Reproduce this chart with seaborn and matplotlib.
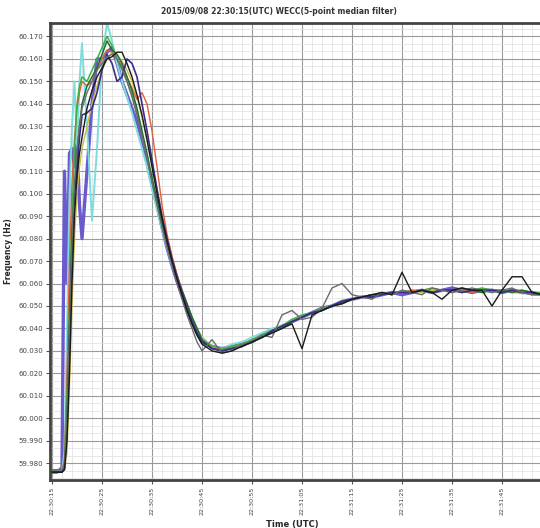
import matplotlib
matplotlib.use('agg')
from matplotlib import pyplot as plt
from matplotlib.ticker import MultipleLocator, AutoMinorLocator, FixedLocator
import pandas as pd
import seaborn as sns

# seconds after the first tick (22:30:15 UTC)
t_sec = [0, 1, 2, 2.5, 3, 3.5, 4, 4.5, 5, 5.5, 6, 7, 8, 9, 10, 11, 12, 13, 14, 15,
         16, 17, 18, 19, 20, 21, 22, 23, 24, 25, 26, 27, 28, 29, 30, 32, 34, 36, 38, 40,
         42, 44, 46, 48, 50, 52, 54, 56, 58, 60, 62, 64, 66, 68, 70, 72, 74, 76, 78, 80,
         82, 84, 86, 88, 90, 92, 94, 96, 98]

# frequency deviation from 60 Hz, in mHz, one list per measurement unit
blue = [-24, -24, -22, 110, 60, 118, 120, 112, 122, 95, 80, 110, 140, 160, 160, 163, 165, 158, 150, 144,
        138, 132, 124, 114, 104, 95, 85, 76, 68, 61, 55, 49, 43, 38, 34, 32, 31, 32, 33, 34,
        37, 39, 41, 43, 45, 47, 49, 50, 52, 53, 54, 54, 55, 56, 55, 56, 57, 56, 57, 58,
        57, 56, 57, 57, 56, 57, 56, 56, 55]
cyan = [-23, -23, -23, -15, 40, 100, 130, 150, 120, 150, 167, 130, 88, 120, 160, 176, 168, 158, 150, 143,
        136, 128, 120, 112, 102, 93, 84, 76, 68, 62, 56, 50, 45, 40, 36, 32, 31, 33, 34, 36,
        38, 40, 41, 44, 45, 47, 48, 50, 51, 53, 54, 55, 55, 56, 56, 57, 56, 57, 57, 56,
        57, 57, 57, 56, 57, 56, 56, 55, 55]
green = [-23, -23, -23, -20, 10, 50, 90, 120, 140, 148, 152, 150, 155, 160, 165, 170, 166, 160, 155, 150,
         144, 136, 126, 116, 106, 96, 86, 77, 69, 62, 56, 50, 44, 39, 35, 32, 31, 32, 33, 35,
         37, 39, 41, 44, 46, 47, 49, 50, 52, 53, 54, 55, 56, 55, 57, 56, 57, 58, 57, 57,
         56, 57, 58, 57, 56, 57, 57, 56, 56]
dark_green = [-24, -24, -24, -22, -5, 30, 70, 100, 118, 130, 140, 148, 152, 156, 162, 168, 164, 162, 158, 152,
              146, 138, 128, 118, 107, 97, 87, 78, 70, 63, 57, 51, 45, 40, 35, 31, 30, 31, 32, 34,
              36, 38, 40, 43, 45, 47, 48, 50, 51, 53, 54, 55, 55, 56, 56, 56, 57, 56, 57, 57,
              58, 57, 56, 57, 57, 56, 57, 56, 55]
red = [-23, -23, -23, -18, 20, 70, 105, 125, 138, 145, 150, 148, 150, 155, 160, 164, 163, 160, 157, 152,
       147, 142, 145, 140, 128, 112, 95, 82, 72, 64, 57, 51, 45, 40, 35, 31, 31, 32, 33, 35,
       37, 39, 41, 43, 45, 47, 49, 50, 52, 53, 54, 55, 55, 56, 56, 57, 57, 56, 57, 57,
       57, 56, 57, 57, 56, 57, 56, 55, 55]
black = [-24, -24, -24, -23, -10, 20, 60, 90, 108, 118, 125, 138, 146, 152, 156, 160, 161, 163, 163, 158,
         152, 144, 135, 124, 112, 100, 89, 79, 70, 62, 55, 48, 42, 37, 33, 30, 29, 30, 32, 34,
         36, 38, 40, 42, 31, 46, 48, 50, 51, 53, 54, 55, 56, 55, 65, 56, 57, 56, 53, 57,
         58, 57, 57, 50, 57, 63, 63, 56, 55]
gray = [-23, -23, -23, -21, 0, 40, 80, 105, 120, 130, 138, 145, 150, 155, 158, 161, 162, 160, 156, 150,
        143, 135, 126, 116, 105, 95, 85, 76, 68, 60, 53, 46, 40, 34, 30, 35, 29, 30, 33, 34,
        37, 36, 46, 48, 44, 45, 49, 58, 60, 55, 54, 53, 56, 55, 57, 56, 55, 58, 57, 56,
        57, 58, 57, 56, 57, 58, 56, 55, 55]
purple = [-24, -24, -24, -22, -5, 40, 80, 100, 110, 125, 135, 136, 138, 145, 155, 162, 158, 150, 152, 160,
          158, 152, 140, 128, 115, 102, 90, 80, 71, 63, 56, 49, 43, 38, 34, 31, 30, 31, 32, 34,
          36, 39, 41, 43, 45, 47, 48, 50, 52, 53, 54, 54, 55, 56, 56, 56, 57, 56, 57, 57,
          56, 57, 57, 57, 56, 57, 56, 56, 55]
olive = [-23, -23, -23, -23, -15, 15, 50, 80, 100, 112, 120, 130, 140, 148, 155, 160, 163, 162, 159, 155,
         150, 143, 134, 124, 113, 102, 91, 81, 72, 64, 57, 51, 45, 40, 36, 32, 31, 32, 33, 35,
         37, 39, 41, 44, 45, 47, 49, 50, 51, 53, 54, 55, 55, 56, 56, 57, 56, 57, 57, 56,
         57, 57, 56, 57, 57, 56, 56, 56, 55]

tick_labels = ['22:30:15', '22:30:25', '22:30:35', '22:30:45', '22:30:55',
               '22:31:05', '22:31:15', '22:31:25', '22:31:35', '22:31:45']

series = [
    ('blue', blue, '#6a5acd', 2.4),
    ('cyan', cyan, '#7fdcdc', 1.4),
    ('olive', olive, '#c8c040', 1.0),
    ('red', red, '#e0603a', 1.0),
    ('green', green, '#3cb043', 1.1),
    ('dark_green', dark_green, '#1f6e34', 1.1),
    ('purple', purple, '#3a2a8a', 1.2),
    ('gray', gray, '#6b6b6b', 1.0),
    ('black', black, '#1a1a1a', 1.0),
]

sns.set_style('white')
fig = plt.figure(figsize=(5.4, 5.28), dpi=100)
ax = fig.add_axes([0.0926, 0.0909, 0.9074, 0.8655])

for name, vals, color, lw in series:
    df = pd.DataFrame({'t': t_sec, 'f': [60 + v / 1000 for v in vals]})
    sns.lineplot(data=df, x='t', y='f', ax=ax, color=color, linewidth=lw,
                 estimator=None, sort=False)

ax.set_xlim(-0.4, 97.6)
ax.set_ylim(59.9725, 60.176)
ax.xaxis.set_major_locator(FixedLocator(range(0, 100, 10)))
ax.set_xticklabels(tick_labels, rotation=90, fontsize=4.6, color='#444444')
ax.xaxis.set_minor_locator(AutoMinorLocator(5))
ax.yaxis.set_major_locator(MultipleLocator(0.01))
ax.yaxis.set_minor_locator(AutoMinorLocator(3))
ax.yaxis.set_major_formatter(matplotlib.ticker.FormatStrFormatter('%.3f'))
for lab in ax.get_yticklabels():
    lab.set_fontsize(5)
    lab.set_color('#444444')

ax.grid(which='major', color='#9a9a9a', linewidth=0.8)
ax.grid(which='minor', color='#dedede', linewidth=0.5)
ax.set_axisbelow(True)
ax.tick_params(which='major', direction='out', length=3, width=0.8, color='#555555', pad=2,
               bottom=True, left=True)

for side in ['left', 'bottom', 'top']:
    ax.spines[side].set_color('#444444')
    ax.spines[side].set_linewidth(2)
ax.spines['right'].set_visible(False)

ax.set_xlabel('Time (UTC)', fontsize=6, fontweight='bold')
ax.xaxis.set_label_coords(0.495, -0.087)
ax.set_ylabel('Frequency (Hz)', fontsize=5.5, fontweight='bold')
ax.yaxis.set_label_coords(-0.075, 0.5)
fig.text(279 / 540, 1 - 12 / 528, '2015/09/08 22:30:15(UTC) WECC(5-point median filter)',
         ha='center', va='center', fontsize=5.5, fontweight='bold', color='#333333')

plt.savefig('out.png', dpi=100)
